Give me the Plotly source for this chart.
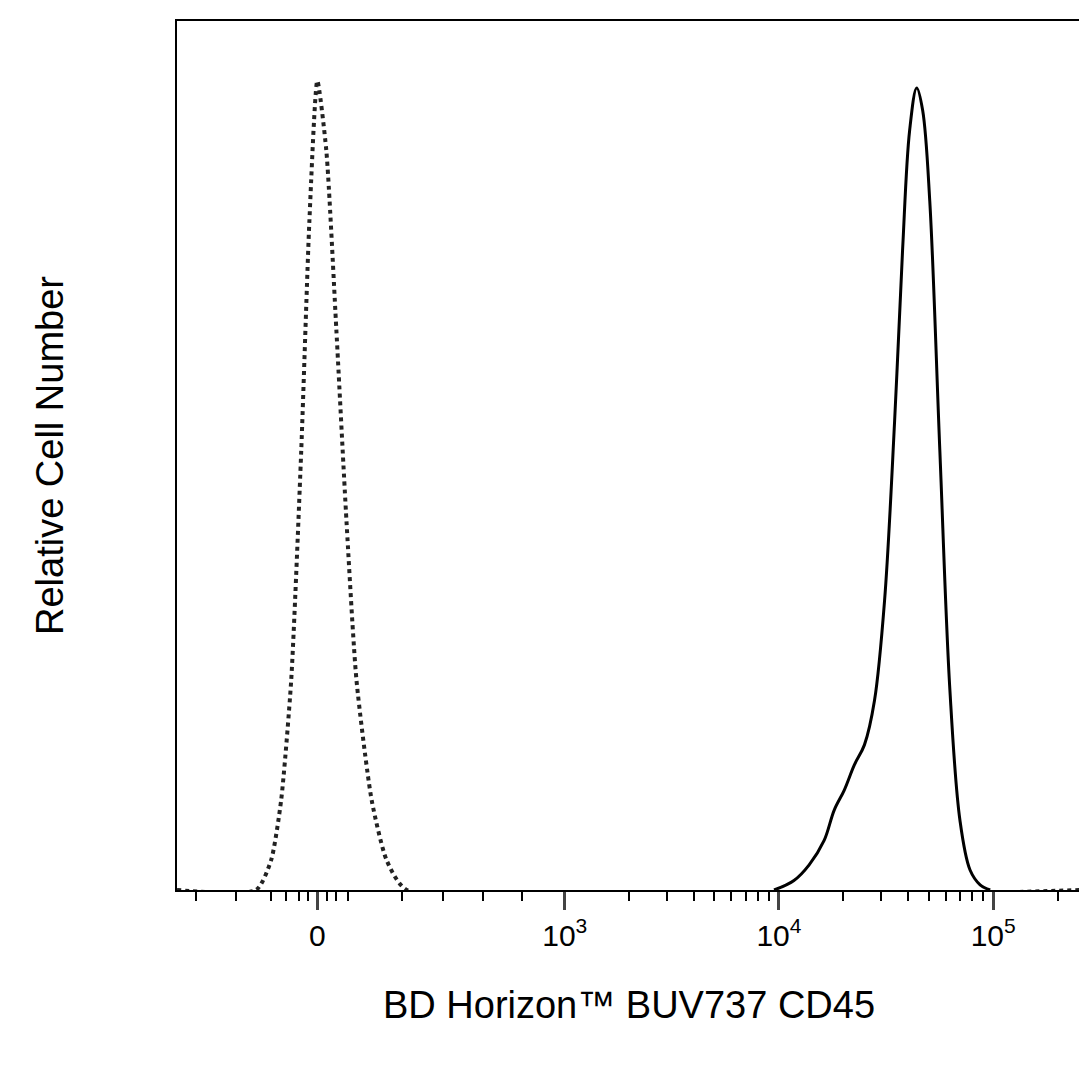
import plotly.graph_objects as go
import numpy as np

# x in display units (decades); 0 sits at ~1.845 in the biexponential scale
iso_x = [1.19, 1.559, 1.629, 1.676, 1.723, 1.770, 1.808, 1.845, 1.887, 1.934, 1.981, 2.028, 2.099, 2.169, 2.263, 5.41]
iso_y = [0, 0, 0.034, 0.103, 0.241, 0.506, 0.770, 0.931, 0.851, 0.644, 0.425, 0.241, 0.103, 0.034, 0, 0]

cd45_x = [3.977, 4.070, 4.141, 4.211, 4.258, 4.305, 4.352, 4.399, 4.446, 4.493, 4.540, 4.577, 4.610,
          4.643, 4.671, 4.704, 4.751, 4.798, 4.845, 4.892, 4.939, 4.986]
cd45_y = [0, 0.011, 0.029, 0.057, 0.092, 0.115, 0.144, 0.167, 0.218, 0.333, 0.540, 0.736, 0.874,
          0.923, 0.897, 0.793, 0.506, 0.230, 0.080, 0.023, 0.006, 0]

tick_vals = [1.845, 3, 4, 5]
tick_text = ["0", "10<sup>3</sup>", "10<sup>4</sup>", "10<sup>5</sup>"]
minor_vals = [1.277, 1.465, 1.63, 1.70, 1.76, 1.80, 1.89, 1.93, 1.99, 2.24, 2.43, 2.62, 2.80]
for d in [3, 4]:
    minor_vals += [d + np.log10(k) for k in range(2, 10)]
minor_vals += [5 + np.log10(2)]

fig = go.Figure()
fig.add_trace(go.Scatter(x=iso_x, y=iso_y, mode="lines", line=dict(color="#222", width=4, dash="dot", shape="spline", smoothing=0.6)))
fig.add_trace(go.Scatter(x=cd45_x, y=cd45_y, mode="lines", line=dict(color="black", width=3, shape="spline")))

fig.update_layout(
    width=1087, height=1086, showlegend=False,
    plot_bgcolor="white", paper_bgcolor="white",
    margin=dict(l=169, r=14, t=13, b=204),
    font=dict(family="Liberation Sans, Arial", color="black"),
)
fig.update_xaxes(
    range=[1.19, 5.41], showgrid=False, zeroline=False,
    showline=True, linecolor="black", linewidth=2, mirror=True,
    tickvals=tick_vals, ticktext=tick_text, ticks="outside", ticklen=18, tickwidth=3,
    tickfont=dict(size=30),
    minor=dict(tickvals=minor_vals, ticks="outside", ticklen=9, tickwidth=2, tickcolor="black"),
    title=dict(text="BD Horizon™ BUV737 CD45", font=dict(size=38), standoff=40),
)
fig.update_yaxes(
    range=[0, 1], showgrid=False, zeroline=False, showticklabels=False,
    showline=True, linecolor="black", linewidth=2, mirror=True,
    title=dict(text="Relative Cell Number", font=dict(size=38), standoff=100),
)
fig.write_html("out.html")
